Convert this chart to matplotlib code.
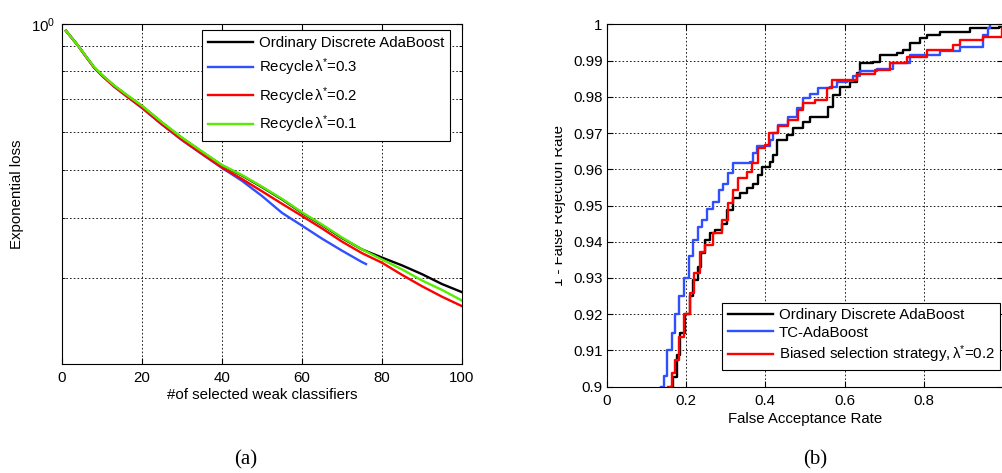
import numpy as np
import matplotlib
matplotlib.use("Agg")
import matplotlib.pyplot as plt
from matplotlib.transforms import Bbox, TransformedBbox

plt.rcParams['font.family'] = ['Liberation Sans', 'DejaVu Sans']
plt.rcParams['mathtext.fontset'] = 'custom'
plt.rcParams['mathtext.rm'] = 'Liberation Sans'
plt.rcParams['mathtext.it'] = 'Liberation Sans:italic'

# (a) exponential loss vs number of weak classifiers
n_x = [1, 2, 3, 4, 6, 8, 10, 13, 16, 20, 25, 30, 35, 40, 45, 50, 55, 60, 65, 70, 75, 80, 85, 90, 95, 100]
loss_ordinary = [0.968, 0.946, 0.924, 0.903, 0.857, 0.815, 0.785, 0.747, 0.716, 0.678, 0.627, 0.583,
                 0.546, 0.512, 0.488, 0.462, 0.436, 0.409, 0.386, 0.363, 0.344, 0.331, 0.319, 0.306,
                 0.292, 0.281]
loss_r02 = [0.968, 0.946, 0.924, 0.903, 0.857, 0.814, 0.783, 0.744, 0.712, 0.673, 0.622, 0.578,
            0.541, 0.507, 0.480, 0.453, 0.427, 0.403, 0.380, 0.357, 0.338, 0.323, 0.305, 0.289,
            0.275, 0.263]
loss_r01 = [0.968, 0.946, 0.924, 0.903, 0.858, 0.816, 0.786, 0.748, 0.717, 0.679, 0.628, 0.584,
            0.547, 0.513, 0.489, 0.463, 0.437, 0.410, 0.387, 0.364, 0.344, 0.328, 0.313, 0.297,
            0.284, 0.270]
n_x_r03 = [1, 2, 3, 4, 6, 8, 10, 13, 16, 20, 25, 30, 35, 40, 45, 50, 55, 60, 65, 70, 75, 76]
loss_r03 = [0.968, 0.946, 0.924, 0.903, 0.857, 0.814, 0.783, 0.744, 0.712, 0.672, 0.621, 0.577,
            0.540, 0.506, 0.476, 0.443, 0.409, 0.385, 0.362, 0.342, 0.324, 0.321]

# (b) ROC curves
far_ordinary = [0.162, 0.168, 0.178, 0.185, 0.197, 0.210, 0.218, 0.229, 0.237, 0.248, 0.261, 0.273,
                0.290, 0.303, 0.319, 0.336, 0.353, 0.370, 0.382, 0.391, 0.412, 0.420, 0.429, 0.454,
                0.471, 0.496, 0.513, 0.546, 0.559, 0.571, 0.588, 0.613, 0.630, 0.639, 0.672, 0.689,
                0.731, 0.748, 0.765, 0.790, 0.807, 0.840, 0.916, 0.990, 1.0]
frr_ordinary = [0.900, 0.9028, 0.9087, 0.9147, 0.920, 0.925, 0.9294, 0.9331, 0.9368, 0.9405, 0.9423,
                0.9432, 0.945, 0.9488, 0.952, 0.9534, 0.9548, 0.956, 0.9584, 0.9607, 0.962, 0.964,
                0.968, 0.9695, 0.9713, 0.9731, 0.9745, 0.9745, 0.9773, 0.9805, 0.9828, 0.9842,
                0.9865, 0.9892, 0.9897, 0.9915, 0.9920, 0.993, 0.9948, 0.9962, 0.997, 0.998, 0.9989,
                0.9993, 1.0]
far_tc = [0.136, 0.145, 0.153, 0.164, 0.172, 0.183, 0.195, 0.207, 0.218, 0.229, 0.240, 0.252, 0.269,
          0.282, 0.294, 0.307, 0.319, 0.361, 0.368, 0.378, 0.403, 0.412, 0.420, 0.433, 0.458, 0.479,
          0.496, 0.513, 0.534, 0.563, 0.580, 0.605, 0.622, 0.639, 0.681, 0.723, 0.765, 0.840, 0.891,
          0.950, 0.962, 0.966, 1.0]
frr_tc = [0.900, 0.903, 0.910, 0.9147, 0.920, 0.925, 0.930, 0.936, 0.9405, 0.944, 0.946, 0.949,
          0.951, 0.9543, 0.956, 0.959, 0.9617, 0.962, 0.9644, 0.9665, 0.9665, 0.968, 0.970, 0.9722,
          0.9745, 0.9768, 0.9796, 0.9807, 0.9823, 0.9828, 0.984, 0.9843, 0.9856, 0.987, 0.9878,
          0.9892, 0.9915, 0.9925, 0.9938, 0.997, 0.9989, 1.0, 1.0]
far_biased = [0.155, 0.164, 0.172, 0.183, 0.195, 0.210, 0.220, 0.235, 0.248, 0.269, 0.290, 0.307,
              0.319, 0.332, 0.353, 0.366, 0.382, 0.399, 0.410, 0.433, 0.458, 0.483, 0.496, 0.525,
              0.555, 0.567, 0.630, 0.676, 0.714, 0.756, 0.807, 0.874, 0.891, 0.950, 0.996, 1.0]
frr_biased = [0.900, 0.9037, 0.9074, 0.9138, 0.920, 0.9258, 0.9313, 0.9373, 0.9391, 0.9423, 0.946,
              0.9506, 0.9543, 0.9575, 0.9593, 0.9616, 0.9658, 0.9667, 0.970, 0.9718, 0.9736, 0.9764,
              0.9782, 0.9791, 0.9823, 0.9846, 0.9863, 0.9874, 0.9892, 0.9911, 0.993, 0.9943, 0.9957,
              0.9966, 0.999, 0.999]

c_black = '#000000'
c_blue = '#3050ff'
c_red = '#ff0000'
c_green = '#55ee00'
lw = 1.7
fs = 10.8

fig = plt.figure(figsize=(10.03, 4.73), dpi=100)
W, H = 1003.0, 473.0

def style_axes(ax):
    ax.tick_params(which='both', direction='in', top=True, right=True, labelsize=fs, pad=5)
    ax.tick_params(which='major', length=4)
    ax.tick_params(which='minor', length=2.5)
    for s in ax.spines.values():
        s.set_linewidth(0.8)
    ax.set_axisbelow(True)

# ---- (a)
ax1 = fig.add_axes([62 / W, 1 - 364 / H, 400 / W, 340 / H])
ax1.set_yscale('log')
ax1.plot(n_x, loss_ordinary, color=c_black, lw=lw, label='Ordinary Discrete AdaBoost')
ax1.plot(n_x_r03, loss_r03, color=c_blue, lw=lw, label=r'Recycle$\mathregular{\,\lambda^{*}}$=0.3')
ax1.plot(n_x, loss_r02, color=c_red, lw=lw, label=r'Recycle$\mathregular{\,\lambda^{*}}$=0.2')
ax1.plot(n_x, loss_r01, color=c_green, lw=lw, label=r'Recycle$\mathregular{\,\lambda^{*}}$=0.1')
ax1.set_xlim(0, 100)
ax1.set_ylim(0.2, 1.0)
ax1.set_xticks([0, 20, 40, 60, 80, 100])
ax1.set_yticks([1.0])
ax1.set_yticklabels([r'$\mathregular{10^{0}}$'])
ax1.set_yticks([0.3, 0.4, 0.5, 0.6, 0.7, 0.8, 0.9], minor=True)
ax1.yaxis.set_minor_formatter(matplotlib.ticker.NullFormatter())
ax1.grid(True, which='both', color='black', linestyle=(0, (2, 2.5)), linewidth=0.6)
style_axes(ax1)
ax1.set_xlabel('#of selected weak classifiers', fontsize=fs)
ax1.set_ylabel('Exponential loss', fontsize=fs)
ax1.xaxis.set_label_coords(0.5, -0.07)
ax1.yaxis.set_label_coords(-0.095, 0.5)
leg1 = ax1.legend(loc='upper left', bbox_to_anchor=(201.7 / W, 1 - 30 / H), bbox_transform=fig.transFigure,
                  fontsize=fs, fancybox=False, edgecolor='black', framealpha=1, handlelength=3.0,
                  handletextpad=0.4, labelspacing=0.45, borderpad=0.4, borderaxespad=0)
leg1.get_frame().set_linewidth(0.8)

# ---- (b)
ax2 = fig.add_axes([606.7 / W, 1 - 386.7 / H, 396.6 / W, 362.4 / H])
ax2.plot(far_ordinary, frr_ordinary, color=c_black, lw=lw, drawstyle='steps-post',
         label='Ordinary Discrete AdaBoost')
ax2.plot(far_tc, frr_tc, color=c_blue, lw=lw, drawstyle='steps-post', label='TC-AdaBoost')
ax2.plot(far_biased, frr_biased, color=c_red, lw=lw, drawstyle='steps-post',
         label=r'Biased selection strategy,$\mathregular{\,\lambda^{*}}$=0.2')
ax2.set_xlim(0, 1)
ax2.set_ylim(0.9, 1.0)
ax2.set_xticks([0, 0.2, 0.4, 0.6, 0.8])
ax2.set_xticklabels(['0', '0.2', '0.4', '0.6', '0.8'])
yt = np.round(np.arange(0.9, 1.0001, 0.01), 2)
ax2.set_yticks(yt)
ax2.set_yticklabels(['0.9'] + ['%.2f' % v for v in yt[1:-1]] + ['1'])
ax2.grid(True, color='black', linestyle=(0, (2, 2.5)), linewidth=0.6)
style_axes(ax2)
ax2.tick_params(axis='y', pad=3)
ax2.set_xlabel('False Acceptance Rate', fontsize=fs)
ax2.xaxis.set_label_coords(0.5, -0.07)
ylab = ax2.set_ylabel('1 - False Rejection Rate', fontsize=fs)
ax2.yaxis.set_label_coords(-0.102, 0.5)
ylab.set_clip_box(TransformedBbox(Bbox([[5.55, 0], [6.2, 4.73]]), fig.dpi_scale_trans))
ylab.set_clip_on(True)
leg2 = ax2.legend(loc='upper left', bbox_to_anchor=(722.3 / W, 1 - 302.7 / H), bbox_transform=fig.transFigure,
                  fontsize=fs, fancybox=False, edgecolor='black', framealpha=1, handlelength=3.0,
                  handletextpad=0.4, labelspacing=0.25, borderpad=0.35, borderaxespad=0)
leg2.get_frame().set_linewidth(0.8)

# captions
fig.text(246 / W, 1 - 460 / H, '(a)', family='Liberation Serif', fontsize=15, ha='center', va='center')
fig.text(815 / W, 1 - 460 / H, '(b)', family='Liberation Serif', fontsize=15, ha='center', va='center')

fig.savefig('out.png', dpi=100)
